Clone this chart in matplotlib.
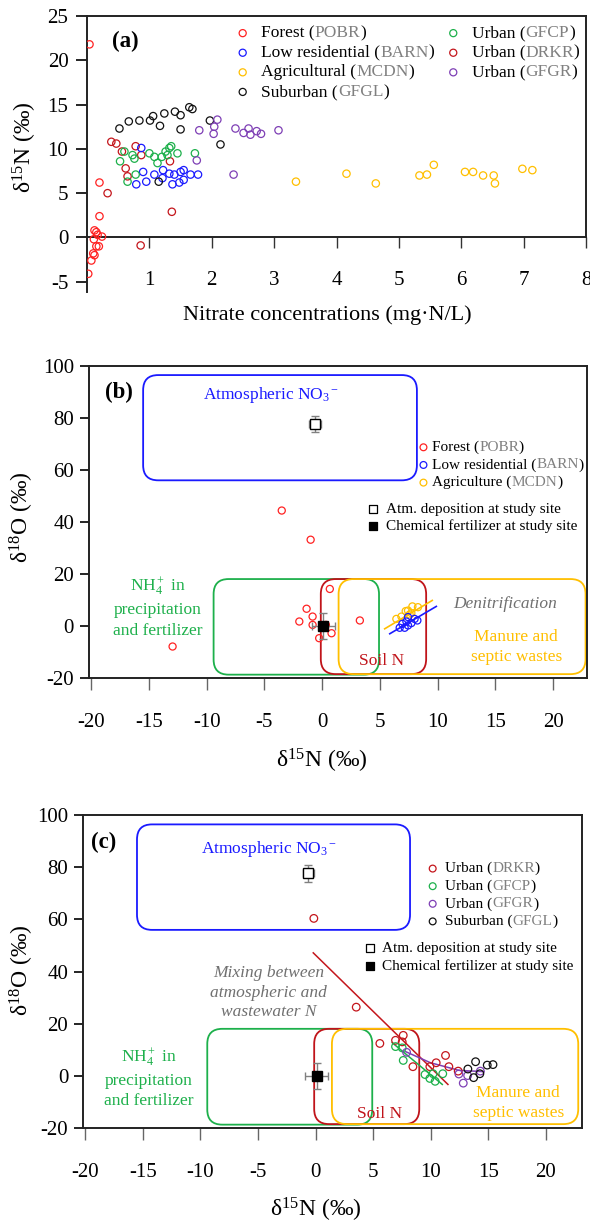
import numpy as np
import matplotlib
matplotlib.use("Agg")
import matplotlib.pyplot as plt
from matplotlib.patches import FancyBboxPatch

# -----------------------------
# Data
# -----------------------------
# (a) nitrate concentration (mg N/L) vs d15N
a_forest_x = [0.04, 0.02, 0.07, 0.10, 0.12, 0.15, 0.19, 0.12, 0.15, 0.11, 0.17, 0.24, 0.20, 0.20]
a_forest_y = [21.8, -4.1, -2.6, -1.8, -2.0, -1.0, -1.0, 0.8, 0.6, -0.2, 0.3, 0.1, 2.4, 6.2]
a_drkr_x = [0.33, 0.39, 0.47, 0.56, 0.62, 0.65, 0.78, 0.87, 0.86, 1.36, 1.33]
a_drkr_y = [5.0, 10.8, 10.6, 9.7, 7.8, 6.9, 10.3, 9.3, -0.9, 2.9, 8.6]
a_barn_x = [0.87, 0.90, 0.79, 0.95, 1.08, 1.21, 1.22, 1.32, 1.40, 1.37, 1.48, 1.50, 1.55, 1.55, 1.66, 1.78]
a_barn_y = [10.1, 7.4, 6.0, 6.3, 7.1, 6.7, 7.6, 7.2, 7.1, 6.0, 6.2, 7.4, 7.6, 6.5, 7.1, 7.1]
a_gfcp_x = [0.53, 0.60, 0.65, 0.73, 0.76, 0.78, 1.00, 1.08, 1.13, 1.20, 1.26, 1.29, 1.32, 1.35, 1.45, 1.73]
a_gfcp_y = [8.6, 9.7, 6.3, 9.3, 8.9, 7.1, 9.5, 9.1, 8.4, 9.1, 9.7, 9.3, 10.1, 10.3, 9.5, 9.5]
a_gfgl_x = [0.52, 0.67, 0.84, 1.01, 1.06, 1.17, 1.24, 1.41, 1.50, 1.50, 1.64, 1.69, 1.97, 2.14, 1.15]
a_gfgl_y = [12.3, 13.1, 13.2, 13.2, 13.7, 12.6, 14.0, 14.2, 13.8, 12.2, 14.7, 14.5, 13.2, 10.5, 6.3]
a_gfgr_x = [1.80, 1.76, 2.04, 2.09, 2.03, 2.35, 2.38, 2.51, 2.59, 2.62, 2.72, 2.79, 3.07]
a_gfgr_y = [12.1, 8.7, 12.5, 13.3, 11.7, 7.1, 12.3, 11.8, 12.3, 11.6, 12.0, 11.7, 12.1]
a_mcdn_x = [3.35, 4.16, 4.63, 5.33, 5.45, 5.56, 6.06, 6.19, 6.35, 6.52, 6.54, 6.98, 7.14]
a_mcdn_y = [6.3, 7.2, 6.1, 7.0, 7.1, 8.2, 7.4, 7.4, 7.0, 7.0, 6.1, 7.75, 7.6]

# (b) d15N vs d18O
b_forest_x = [-3.5, -1.0, -12.95, 0.66, -1.35, -1.98, -0.83, -0.83, -0.26, 0.81, 0.32, 3.26]
b_forest_y = [44.4, 33.2, -7.8, 14.3, 6.7, 1.8, 3.7, 0.5, -4.6, -2.7, 0.5, 2.2]
b_barn_x = [6.71, 7.14, 6.94, 7.29, 7.43, 7.72, 8.00, 8.24, 7.43]
b_barn_y = [-0.6, -0.6, 0.9, 1.8, 3.5, 1.2, 2.8, 2.2, 0.3]
b_mcdn_x = [6.42, 6.86, 7.43, 7.81, 8.29, 7.57, 7.23, 7.72]
b_mcdn_y = [2.8, 3.7, 6.0, 7.6, 7.3, 4.5, 5.8, 5.0]
b_barn_fit_x = [5.85, 9.88]
b_barn_fit_y = [-2.9, 7.6]
b_mcdn_fit_x = [5.41, 9.53]
b_mcdn_fit_y = [-1.0, 9.9]

# (c) d15N vs d18O
c_drkr_x = [-0.15, 3.53, 5.58, 6.94, 7.61, 7.52, 8.45, 9.92, 10.47, 11.28, 11.57, 12.38]
c_drkr_y = [60.4, 26.4, 12.5, 13.7, 15.6, 13.1, 3.6, 3.6, 5.1, 7.9, 3.6, 1.9]
c_gfcp_x = [6.94, 7.52, 7.61, 9.50, 9.92, 10.38, 11.04, 10.20]
c_gfcp_y = [11.3, 10.8, 6.0, 0.6, -0.9, -2.0, 0.9, 0.9]
c_gfgr_x = [7.90, 12.44, 12.82, 13.20, 14.30]
c_gfgr_y = [9.1, 0.8, -2.7, 0.2, 1.9]
c_gfgl_x = [13.22, 13.89, 13.72, 14.90, 15.40, 14.26]
c_gfgl_y = [2.7, 5.5, -0.6, 4.2, 4.4, 0.9]
c_drkr_fit_x = [-0.2, 11.49]
c_drkr_fit_y = [47.2, -3.2]
c_gfcp_fit_x = [6.65, 11.0]
c_gfcp_fit_y = [12.8, -3.2]
c_gfgr_fit_x = [7.8, 9.98, 12.44, 14.6]
c_gfgr_fit_y = [9.4, 5.1, 2.2, 1.7]

# end-members measured at study site: (x, y, xerr, yerr)
atm_dep = (-0.62, 77.6, 0.5, 3.1)
chem_fert = (0.1, 0.1, 1.0, 5.1)

# source boxes (x0, y0, x1, y1)
box_atm = (-15.5, 56.0, 8.2, 96.4)
box_nh4 = (-9.4, -18.6, 4.92, 18.1)
box_soil = (-0.12, -18.4, 9.0, 18.1)
box_manure = (1.42, -18.4, 22.8, 18.1)

# -----------------------------
# Style
# -----------------------------
plt.rcParams.update({
    "font.family": ["Liberation Serif", "DejaVu Serif"],
    "mathtext.fontset": "custom",
    "mathtext.rm": "Liberation Serif",
    "mathtext.it": "Liberation Serif:italic",
    "mathtext.bf": "Liberation Serif:bold",
    "axes.unicode_minus": False,
})

C_FOREST = "#ff2222"
C_DRKR = "#c4161c"
C_BARN = "#1a1aff"
C_MCDN = "#ffbf00"
C_GFGL = "#111111"
C_GFCP = "#1db04b"
C_GFGR = "#7e3fb5"
C_GRAY = "#808080"
C_SOIL = "#c0141a"

TICK_FS = 15
LAB_FS = 17
ANN_FS = 12.5

W, H = 590, 1226
fig = plt.figure(figsize=(W / 100, H / 100), dpi=100)


def px_axes(left, right, top, bottom):
    return fig.add_axes([left / W, 1 - bottom / H, (right - left) / W, (bottom - top) / H])


def circles(ax, x, y, color, s=26, lw=0.9, **kw):
    ax.scatter(x, y, s=s, facecolors="none", edgecolors=color, linewidths=lw, zorder=4, **kw)


def rich_text(ax, x, y, parts, size):
    t = ax.text(x, y, parts[0][0], color=parts[0][1], fontsize=size,
                va="center", ha="left", transform=ax.transAxes)
    for s, c in parts[1:]:
        t = ax.annotate(s, xy=(1, 0.5), xycoords=t, color=c, fontsize=size,
                        va="center", ha="left")
    return t


def legend_rows(ax, entries, mx, tx, y0, dy, size, ms=24):
    for i, (name, code, col) in enumerate(entries):
        y = y0 - i * dy
        ax.scatter([mx], [y], s=ms, facecolors="none", edgecolors=col, linewidths=0.9,
                   transform=ax.transAxes, clip_on=False, zorder=5)
        rich_text(ax, tx, y, [(name + " (", "black"), (code, C_GRAY), (")", "black")], size)


def square_rows(ax, mx, tx, y0, dy, size):
    labels = ["Atm. deposition at study site", "Chemical fertilizer at study site"]
    faces = ["white", "black"]
    for i, (lab, fc) in enumerate(zip(labels, faces)):
        y = y0 - i * dy
        ax.scatter([mx], [y], s=26, marker="s", facecolors=fc, edgecolors="black",
                   linewidths=0.9, transform=ax.transAxes, clip_on=False, zorder=5)
        ax.text(tx, y, lab, fontsize=size, va="center", ha="left", transform=ax.transAxes)


def round_box(ax, b, color, r=1.3, aspect=4.45):
    x0, y0, x1, y1 = b
    p = FancyBboxPatch((x0, y0), x1 - x0, y1 - y0,
                       boxstyle=f"round,pad=0,rounding_size={r}",
                       mutation_aspect=aspect, fill=False, edgecolor=color,
                       linewidth=1.3, zorder=2)
    ax.add_patch(p)


def end_members(ax):
    x, y, xe, ye = atm_dep
    ax.errorbar([x], [y], xerr=[xe], yerr=[ye], fmt="s", ms=6.5, mfc="white", mec="black",
                mew=1.0, ecolor=C_GRAY, elinewidth=1.0, capsize=3, zorder=6)
    x, y, xe, ye = chem_fert
    ax.errorbar([x], [y], xerr=[xe], yerr=[ye], fmt="s", ms=6.5, mfc="black", mec="black",
                ecolor=C_GRAY, elinewidth=1.0, capsize=3, zorder=6)


def frame_style(ax, xlen, xpad, ylen, ypad):
    for sp in ax.spines.values():
        sp.set_linewidth(1.4)
        sp.set_color("#222222")
    ax.tick_params(axis="x", direction="out", length=xlen, width=1.0, color="#666666",
                   pad=xpad, labelsize=TICK_FS)
    ax.tick_params(axis="y", direction="out", length=ylen, width=1.2, color="black",
                   pad=ypad, labelsize=TICK_FS)


# -----------------------------
# Panel (a)
# -----------------------------
ax = px_axes(87, 586, 16, 292.4)
circles(ax, a_forest_x, a_forest_y, C_FOREST, s=28)
circles(ax, a_drkr_x, a_drkr_y, C_DRKR, s=28)
circles(ax, a_barn_x, a_barn_y, C_BARN, s=28)
circles(ax, a_gfcp_x, a_gfcp_y, C_GFCP, s=28)
circles(ax, a_gfgl_x, a_gfgl_y, C_GFGL, s=28)
circles(ax, a_gfgr_x, a_gfgr_y, C_GFGR, s=28)
circles(ax, a_mcdn_x, a_mcdn_y, C_MCDN, s=28)
ax.set_xlim(0, 8)
ax.set_ylim(-6.2, 25)
ax.set_xticks(range(1, 9))
ax.set_yticks(range(-5, 26, 5))
ax.spines["bottom"].set_position(("data", 0))
ax.spines["right"].set_bounds(0, 25)
frame_style(ax, 7.9, 16.5, 7.9, 5.5)
ax.tick_params(axis="x", color="#333333")
ax.set_xlabel("Nitrate concentrations (mg·N/L)", fontsize=16)
ax.xaxis.set_label_coords(0.482, -0.100)
ax.xaxis.label.set_va("baseline")
ax.set_ylabel("δ$^{15}$N (‰)", fontsize=LAB_FS)
ax.yaxis.set_label_coords(-0.124, 0.524)
ax.yaxis.label.set_va("center")
ax.text(0.61, 22.1, "(a)", fontsize=16.5, fontweight="bold", ha="center", va="center")

a_leg1 = [("Forest", "POBR", C_FOREST), ("Low residential", "BARN", C_BARN),
          ("Agricultural", "MCDN", C_MCDN), ("Suburban", "GFGL", C_GFGL)]
a_leg2 = [("Urban", "GFCP", C_GFCP), ("Urban", "DRKR", C_DRKR), ("Urban", "GFGR", C_GFGR)]
legend_rows(ax, a_leg1, 0.312, 0.349, 0.938, 0.0709, ANN_FS, ms=26)
legend_rows(ax, a_leg2, 0.734, 0.771, 0.938, 0.0709, ANN_FS, ms=26)

# -----------------------------
# Panel (b)
# -----------------------------
ax = px_axes(89.3, 587.3, 365.7, 678.3)
round_box(ax, box_atm, C_BARN)
round_box(ax, box_nh4, C_GFCP)
round_box(ax, box_soil, C_SOIL)
round_box(ax, box_manure, C_MCDN)
ax.plot(b_barn_fit_x, b_barn_fit_y, color=C_BARN, lw=1.2, zorder=3)
ax.plot(b_mcdn_fit_x, b_mcdn_fit_y, color=C_MCDN, lw=1.2, zorder=3)
end_members(ax)
circles(ax, b_forest_x, b_forest_y, C_FOREST, s=26)
circles(ax, b_mcdn_x, b_mcdn_y, C_MCDN, s=26)
circles(ax, b_barn_x, b_barn_y, C_BARN, s=26)
ax.set_xlim(-20.16, 22.95)
ax.set_ylim(-20, 100)
ax.set_xticks(range(-20, 21, 5))
ax.set_yticks(range(-20, 101, 20))
frame_style(ax, 8.6, 16.3, 6.7, 4.3)
ax.set_xlabel("δ$^{15}$N (‰)", fontsize=LAB_FS)
ax.xaxis.set_label_coords(0.468, -0.284)
ax.xaxis.label.set_va("baseline")
ax.set_ylabel("δ$^{18}$O (‰)", fontsize=LAB_FS)
ax.yaxis.set_label_coords(-0.136, 0.515)
ax.yaxis.label.set_va("center")
ax.text(-17.6, 89.8, "(b)", fontsize=16.5, fontweight="bold", ha="center", va="center")
ax.text(-4.4, 88.6, "Atmospheric NO$_3$$^-$", color=C_BARN, fontsize=ANN_FS, ha="center", va="center")
ax.text(-14.2, 7.3, "NH$_4^+$ in\nprecipitation\nand fertilizer", color=C_GFCP, fontsize=ANN_FS,
        ha="center", va="center", linespacing=1.35)
ax.text(5.13, -13.4, "Soil N", color=C_SOIL, fontsize=ANN_FS, ha="center", va="center")
ax.text(15.8, 8.6, "Denitrification", color="#707070", fontsize=ANN_FS, style="italic",
        ha="center", va="center")
ax.text(16.8, -7.9, "Manure and\nseptic wastes", color=C_MCDN, fontsize=ANN_FS,
        ha="center", va="center", linespacing=1.35)
b_leg = [("Forest", "POBR", C_FOREST), ("Low residential", "BARN", C_BARN),
         ("Agriculture", "MCDN", C_MCDN)]
legend_rows(ax, b_leg, 0.671, 0.688, 0.739, 0.0565, 11)
square_rows(ax, 0.569, 0.596, 0.5406, 0.0534, 11)

# -----------------------------
# Panel (c)
# -----------------------------
ax = px_axes(83.3, 581.7, 815, 1128.3)
round_box(ax, box_atm, C_BARN)
round_box(ax, box_nh4, C_GFCP)
round_box(ax, box_soil, C_SOIL)
round_box(ax, box_manure, C_MCDN)
ax.plot(c_drkr_fit_x, c_drkr_fit_y, color=C_DRKR, lw=1.1, zorder=3)
ax.plot(c_gfcp_fit_x, c_gfcp_fit_y, color=C_GFCP, lw=1.1, zorder=3)
ax.plot(c_gfgr_fit_x, c_gfgr_fit_y, color=C_GFGR, lw=1.1, zorder=3)
end_members(ax)
circles(ax, c_drkr_x, c_drkr_y, C_DRKR, s=30)
circles(ax, c_gfcp_x, c_gfcp_y, C_GFCP, s=30)
circles(ax, c_gfgr_x, c_gfgr_y, C_GFGR, s=30)
circles(ax, c_gfgl_x, c_gfgl_y, C_GFGL, s=30)
ax.set_xlim(-20.16, 23.1)
ax.set_ylim(-20, 100)
ax.set_xticks(range(-20, 21, 5))
ax.set_yticks(range(-20, 101, 20))
frame_style(ax, 8.9, 16.0, 6.7, 4.1)
ax.set_xlabel("δ$^{15}$N (‰)", fontsize=LAB_FS)
ax.xaxis.set_label_coords(0.466, -0.2815)
ax.xaxis.label.set_va("baseline")
ax.set_ylabel("δ$^{18}$O (‰)", fontsize=LAB_FS)
ax.yaxis.set_label_coords(-0.124, 0.505)
ax.yaxis.label.set_va("center")
ax.text(-18.4, 89.4, "(c)", fontsize=16.5, fontweight="bold", ha="center", va="center")
ax.text(-4.05, 86.8, "Atmospheric NO$_3$$^-$", color=C_BARN, fontsize=ANN_FS, ha="center", va="center")
ax.text(-4.05, 32.0, "Mixing between\natmospheric and\nwastewater N", color="#707070",
        fontsize=ANN_FS, style="italic", ha="center", va="center", linespacing=1.33)
ax.text(-14.5, -0.6, "NH$_4^+$ in\nprecipitation\nand fertilizer", color=C_GFCP, fontsize=ANN_FS,
        ha="center", va="center", linespacing=1.35)
ax.text(5.58, -14.7, "Soil N", color=C_SOIL, fontsize=ANN_FS, ha="center", va="center")
ax.text(17.6, -10.2, "Manure and\nseptic wastes", color=C_MCDN, fontsize=ANN_FS,
        ha="center", va="center", linespacing=1.35)
c_leg = [("Urban", "DRKR", C_DRKR), ("Urban", "GFCP", C_GFCP),
         ("Urban", "GFGR", C_GFGR), ("Suburban", "GFGL", C_GFGL)]
legend_rows(ax, c_leg, 0.701, 0.7257, 0.829, 0.0562, 11)
square_rows(ax, 0.5752, 0.5987, 0.5745, 0.0555, 11)

fig.savefig("out.png", dpi=100)
